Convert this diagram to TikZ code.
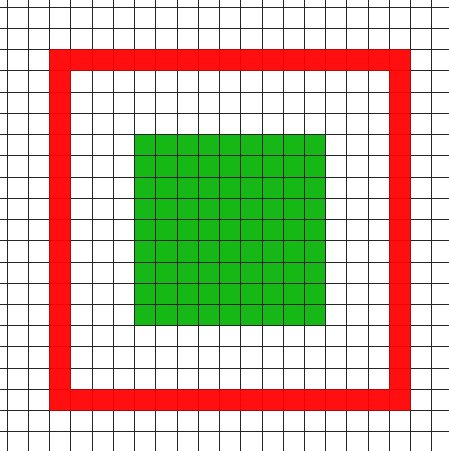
\documentclass[tikz,border=0pt]{standalone}
\usetikzlibrary{positioning}

\definecolor{framered}{RGB}{255,0,0}
\definecolor{boxgreen}{RGB}{22,184,22}

\begin{document}
\begin{tikzpicture}[
    x=0.5cm, y=0.5cm,
    gridline/.style={draw=black!85, line width=0.55pt, step=0.5cm},
    frame/.style={fill=framered, fill opacity=0.94, even odd rule},
    square/.style={fill=boxgreen}
  ]
  \useasboundingbox (-0.33,-0.9) rectangle (20.8,20.33);
  \clip (-0.33,-0.9) rectangle (20.8,20.33);
  \fill[white] (-0.33,-0.9) rectangle (20.8,20.33);

  % green square under the grid
  \path[square] (6,5) rectangle (15,14);

  % grid
  \draw[gridline] (-1,-1) grid (21,21);

  % red frame, lines only faintly through
  \path[frame] (2,1) rectangle (19,18) (3,2) rectangle (18,17);
\end{tikzpicture}
\end{document}
